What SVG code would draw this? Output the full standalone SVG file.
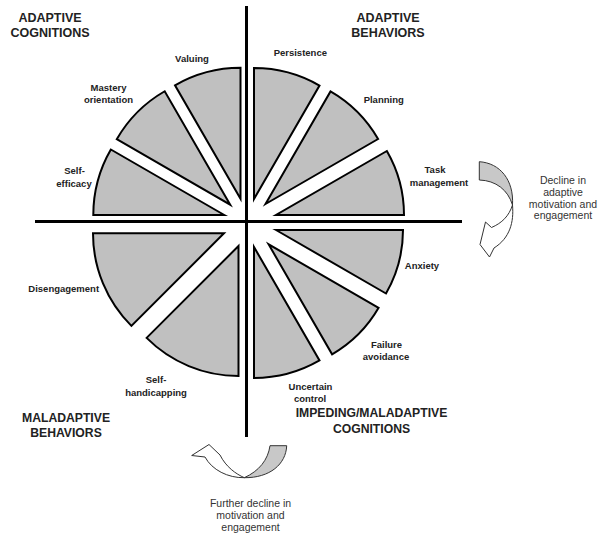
<svg xmlns="http://www.w3.org/2000/svg" width="598" height="537" viewBox="0 0 598 537">
<style>
.w{fill:#c0c0c0;stroke:#000;stroke-width:2}
.ax{stroke:#000;stroke-width:3;fill:none}
.h{font-family:"Liberation Sans",Arial,sans-serif;font-size:12.5px;fill:#222;text-anchor:middle;font-weight:bold}
.hs{font-size:12.2px}
.l{font-family:"Liberation Sans",Arial,sans-serif;font-size:9.5px;font-weight:bold;fill:#222;text-anchor:middle}
.n{font-family:"Liberation Sans",Arial,sans-serif;font-size:10.5px;fill:#333;text-anchor:middle}
.g{fill:#c8c8c8;stroke:#333;stroke-width:1}
.a{fill:#fff;stroke:#333;stroke-width:1}
</style>
<rect width="598" height="537" fill="#fff"/>
<g id="axes">
<line class="ax" x1="246.5" y1="6" x2="246.5" y2="437"/>
<line class="ax" x1="35" y1="221.5" x2="462" y2="221.5"/>
</g>
<g id="valuing"><path class="w" d="M240.5,198.8 L240.5,67.8 A131,131 0 0 0 175,85.35 Z"/><text class="l" x="192" y="62">Valuing</text></g>
<g id="mastery"><path class="w" d="M230.2,204.7 L164.7,91.25 A131,131 0 0 0 116.75,139.2 Z"/><text class="l" x="108.5" y="90.7">Mastery</text><text class="l" x="108.5" y="103.3">orientation</text></g>
<g id="selfefficacy"><path class="w" d="M224.3,215 L110.85,149.5 A131,131 0 0 0 93.3,215 Z"/><text class="l" x="74.5" y="174.3">Self-</text><text class="l" x="74" y="186.7">efficacy</text></g>
<g id="persistence"><path class="w" d="M254,199 L319.5,85.55 A131,131 0 0 0 254,68 Z"/><text class="l" x="300.3" y="56">Persistence</text></g>
<g id="planning"><path class="w" d="M265.5,204 L378.1,139 A130,130 0 0 0 330.5,91.4 Z"/><text class="l" x="383.7" y="103.3">Planning</text></g>
<g id="taskmanagement"><path class="w" d="M276,215 L404,215 A128,128 0 0 0 386.85,151 Z"/><text class="l" x="435" y="173.3">Task</text><text class="l" x="439" y="185.7">management</text></g>
<g id="anxiety"><path class="w" d="M276,230 L386,293.5 A127,127 0 0 0 403,230 Z"/><text class="l" x="422" y="269.3">Anxiety</text></g>
<g id="failureavoidance"><path class="w" d="M268.6,244.3 L332.1,354.3 A127,127 0 0 0 378.6,307.8 Z"/><text class="l" x="386.5" y="347.7">Failure</text><text class="l" x="386" y="360">avoidance</text></g>
<g id="uncertaincontrol"><path class="w" d="M254,247 L254,378 A131,131 0 0 0 319.5,360.45 Z"/><text class="l" x="310.5" y="390">Uncertain</text><text class="l" x="310" y="402.3">control</text></g>
<g id="disengagement"><path class="w" d="M224,233.3 L93,233.3 A131,131 0 0 0 131.4,325.9 Z"/><text class="l" x="63.7" y="291.7">Disengagement</text></g>
<g id="selfhandicapping"><path class="w" d="M238.5,246 L146.6,337.9 A130,130 0 0 0 238.5,376 Z"/><text class="l" x="156" y="382.7">Self-</text><text class="l" x="156" y="395.7">handicapping</text></g>
<g id="headings">
<text class="h" x="50" y="21.7">ADAPTIVE</text>
<text class="h" x="50" y="36.7">COGNITIONS</text>
<text class="h" x="388" y="21.7">ADAPTIVE</text>
<text class="h" x="388" y="36.7">BEHAVIORS</text>
<text class="h hs" x="66" y="421.7">MALADAPTIVE</text>
<text class="h hs" x="66" y="436.7">BEHAVIORS</text>
<text class="h hs" x="371.5" y="417.3">IMPEDING/MALADAPTIVE</text>
<text class="h hs" x="371.5" y="432.7">COGNITIONS</text>
</g>
<g id="decline-arrow">
<path class="g" d="M479.3,161.7 C500,163 514,180 512.5,205 C508,190 496,180.5 479.3,180 Z"/>
<path class="a" d="M512.5,205 C514,222 510,238 494,248 L489.5,257 L480,244.5 L485.5,222 L491.5,227.5 C502,223 509,216 512.5,205 Z"/>
<text class="n" x="563" y="184">Decline in</text>
<text class="n" x="563" y="196">adaptive</text>
<text class="n" x="563" y="207.7">motivation and</text>
<text class="n" x="563" y="219.3">engagement</text>
</g>
<g id="further-arrow">
<path class="g" d="M270,445.7 L286.7,445.7 C286,464 270,478 244.3,477.7 C259,471 268,460 270,445.7 Z"/>
<path class="a" d="M244.3,477.7 C228,478 212,470 205,457 L191.7,455.5 L209,444.5 L220,455 C226,467 236,474 244.3,477.7 Z"/>
<text class="n" x="250.5" y="507.3">Further decline in</text>
<text class="n" x="250.5" y="519.3">motivation and</text>
<text class="n" x="250.5" y="531">engagement</text>
</g>
</svg>
